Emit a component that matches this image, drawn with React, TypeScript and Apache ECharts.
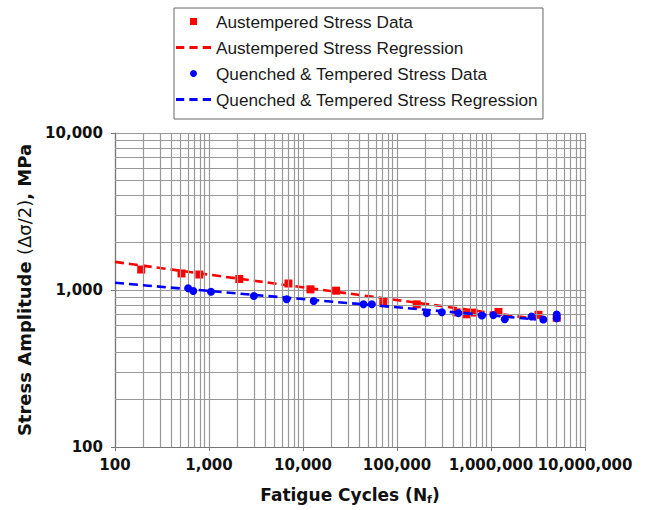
import React, { useEffect, useRef } from "react";
import * as echarts from "echarts";

// Austempered specimens: cycles to failure and stress amplitude (MPa)
const austCycles = [190, 510, 790, 2100, 7000, 12000, 22500, 71500, 162000, 430000, 550000, 650000, 1200000, 3200000, 5000000];
const austStress = [1350, 1275, 1255, 1175, 1100, 1010, 990, 825, 810, 720, 700, 718, 725, 695, 665];

// Quenched & tempered specimens
const qtCycles = [600, 680, 1050, 3000, 6700, 13000, 44000, 54000, 207000, 300000, 450000, 800000, 1060000, 1400000, 2700000, 3600000, 5000000, 5000000];
const qtStress = [1025, 985, 975, 915, 873, 852, 812, 812, 712, 722, 712, 688, 692, 652, 678, 648, 698, 660];

// Power-law regression lines (straight in log-log), end points
const austRegCycles = [100, 3000000];
const austRegStress = [1510, 655];
const qtRegCycles = [100, 3000000];
const qtRegStress = [1112, 650];

const xDecades = [100, 1000, 10000, 100000, 1000000];
const yDecades = [100, 1000];

const RED = "#ff0000";
const BLUE = "#0000ff";
const GRID = "#989898";
const AXIS_FONT = "DejaVu Sans";

// three short dashes, used as the legend swatch of the regression lines
const DASH_ICON = "path://M0 0H8V3H0Z M13 0H21V3H13Z M26 0H34V3H26Z";
const SQUARE_ICON = "path://M0 0H10V10H0Z";

const pairs = (xs: number[], ys: number[]) => xs.map((x, i) => [x, ys[i]]);

export default function App() {
  const ref = useRef<HTMLDivElement>(null);

  useEffect(() => {
    if (!ref.current) return;
    const chart = echarts.init(ref.current, undefined, { renderer: "svg" });

    const minorX: number[] = [];
    xDecades.forEach((d) => {
      for (let k = 2; k <= 9; k++) minorX.push(d * k);
    });
    const minorY: number[] = [];
    yDecades.forEach((d) => {
      for (let k = 2; k <= 9; k++) minorY.push(d * k);
    });

    const fmt = (v: number) => Math.round(v).toLocaleString("en-US");

    chart.setOption({
      animation: false,
      backgroundColor: "#ffffff",
      grid: { left: 115, right: 61, top: 133, bottom: 62, containLabel: false },
      legend: {
        orient: "vertical",
        left: 174,
        top: 8,
        padding: [5, 5, 11, 2],
        itemGap: 9,
        itemWidth: 35,
        itemHeight: 7,
        borderColor: "#666",
        borderWidth: 1,
        backgroundColor: "#fff",
        textStyle: { fontFamily: "Liberation Sans", fontSize: 17.2, color: "#1a1a1a", lineHeight: 16 },
        data: [
          { name: "Austempered Stress Data", icon: SQUARE_ICON },
          { name: "Austempered Stress Regression", icon: DASH_ICON },
          { name: "Quenched & Tempered Stress Data", icon: "circle" },
          { name: "Quenched & Tempered Stress Regression", icon: DASH_ICON },
        ],
      },
      xAxis: {
        type: "log",
        logBase: 10,
        min: 100,
        max: 10000000,
        name: "{a|Fatigue Cycles (N}{s|f}{a|)}",
        nameLocation: "middle",
        nameGap: 38,
        nameTextStyle: {
          rich: {
            a: { fontFamily: AXIS_FONT, fontWeight: "bold", fontSize: 17, color: "#111" },
            s: { fontFamily: AXIS_FONT, fontWeight: "bold", fontSize: 11, color: "#111", verticalAlign: "bottom", padding: [9, 0, 0, 0] },
          },
        },
        axisLine: { show: true, lineStyle: { color: "#777", width: 1.2 } },
        axisTick: { show: true, length: 4, lineStyle: { color: "#777" } },
        axisLabel: {
          formatter: fmt,
          fontFamily: AXIS_FONT,
          fontWeight: "bold",
          fontSize: 15,
          color: "#111",
          margin: 10,
        },
        splitLine: { show: true, lineStyle: { color: GRID, width: 1.2 } },
      },
      yAxis: {
        type: "log",
        logBase: 10,
        min: 100,
        max: 10000,
        name: "{b|Stress Amplitude }{n|(Δσ/2)}{b|, MPa}",
        nameLocation: "middle",
        nameGap: 82,
        nameRotate: 90,
        nameTextStyle: {
          rich: {
            b: { fontFamily: AXIS_FONT, fontWeight: "bold", fontSize: 18, color: "#111" },
            n: { fontFamily: AXIS_FONT, fontWeight: "normal", fontSize: 18, color: "#111" },
          },
        },
        axisLine: { show: true, lineStyle: { color: "#777", width: 1.2 } },
        axisTick: { show: true, length: 4, lineStyle: { color: "#777" } },
        axisLabel: {
          formatter: fmt,
          fontFamily: AXIS_FONT,
          fontWeight: "bold",
          fontSize: 15,
          color: "#111",
          margin: 12,
        },
        splitLine: { show: true, lineStyle: { color: GRID, width: 1.2 } },
      },
      series: [
        {
          // minor log grid lines (2..9 within each decade)
          type: "line",
          name: "minor-grid",
          data: [],
          silent: true,
          z: 1,
          markLine: {
            silent: true,
            symbol: ["none", "none"],
            label: { show: false },
            emphasis: { disabled: true },
            lineStyle: { color: GRID, width: 1.2, type: "solid" },
            data: [
              ...minorX.map((v) => ({ xAxis: v })),
              ...minorY.map((v) => ({ yAxis: v })),
            ],
          },
        },
        {
          name: "Austempered Stress Data",
          type: "scatter",
          symbol: "rect",
          symbolSize: 8,
          itemStyle: { color: RED, opacity: 1 },
          data: pairs(austCycles, austStress),
          z: 3,
        },
        {
          name: "Austempered Stress Regression",
          type: "line",
          showSymbol: false,
          symbol: "none",
          lineStyle: { color: RED, width: 2.6, type: [9, 5] },
          itemStyle: { color: RED },
          data: pairs(austRegCycles, austRegStress),
          z: 4,
        },
        {
          name: "Quenched & Tempered Stress Data",
          type: "scatter",
          symbol: "circle",
          symbolSize: 8,
          itemStyle: { color: BLUE, opacity: 1 },
          data: pairs(qtCycles, qtStress),
          z: 5,
        },
        {
          name: "Quenched & Tempered Stress Regression",
          type: "line",
          showSymbol: false,
          symbol: "none",
          lineStyle: { color: BLUE, width: 2.6, type: [9, 5] },
          itemStyle: { color: BLUE },
          data: pairs(qtRegCycles, qtRegStress),
          z: 6,
        },
      ],
    });

    return () => chart.dispose();
  }, []);

  return (
    <div
      ref={ref}
      style={{ position: "fixed", left: 0, top: 0, width: 646, height: 510, background: "#fff" }}
    />
  );
}
